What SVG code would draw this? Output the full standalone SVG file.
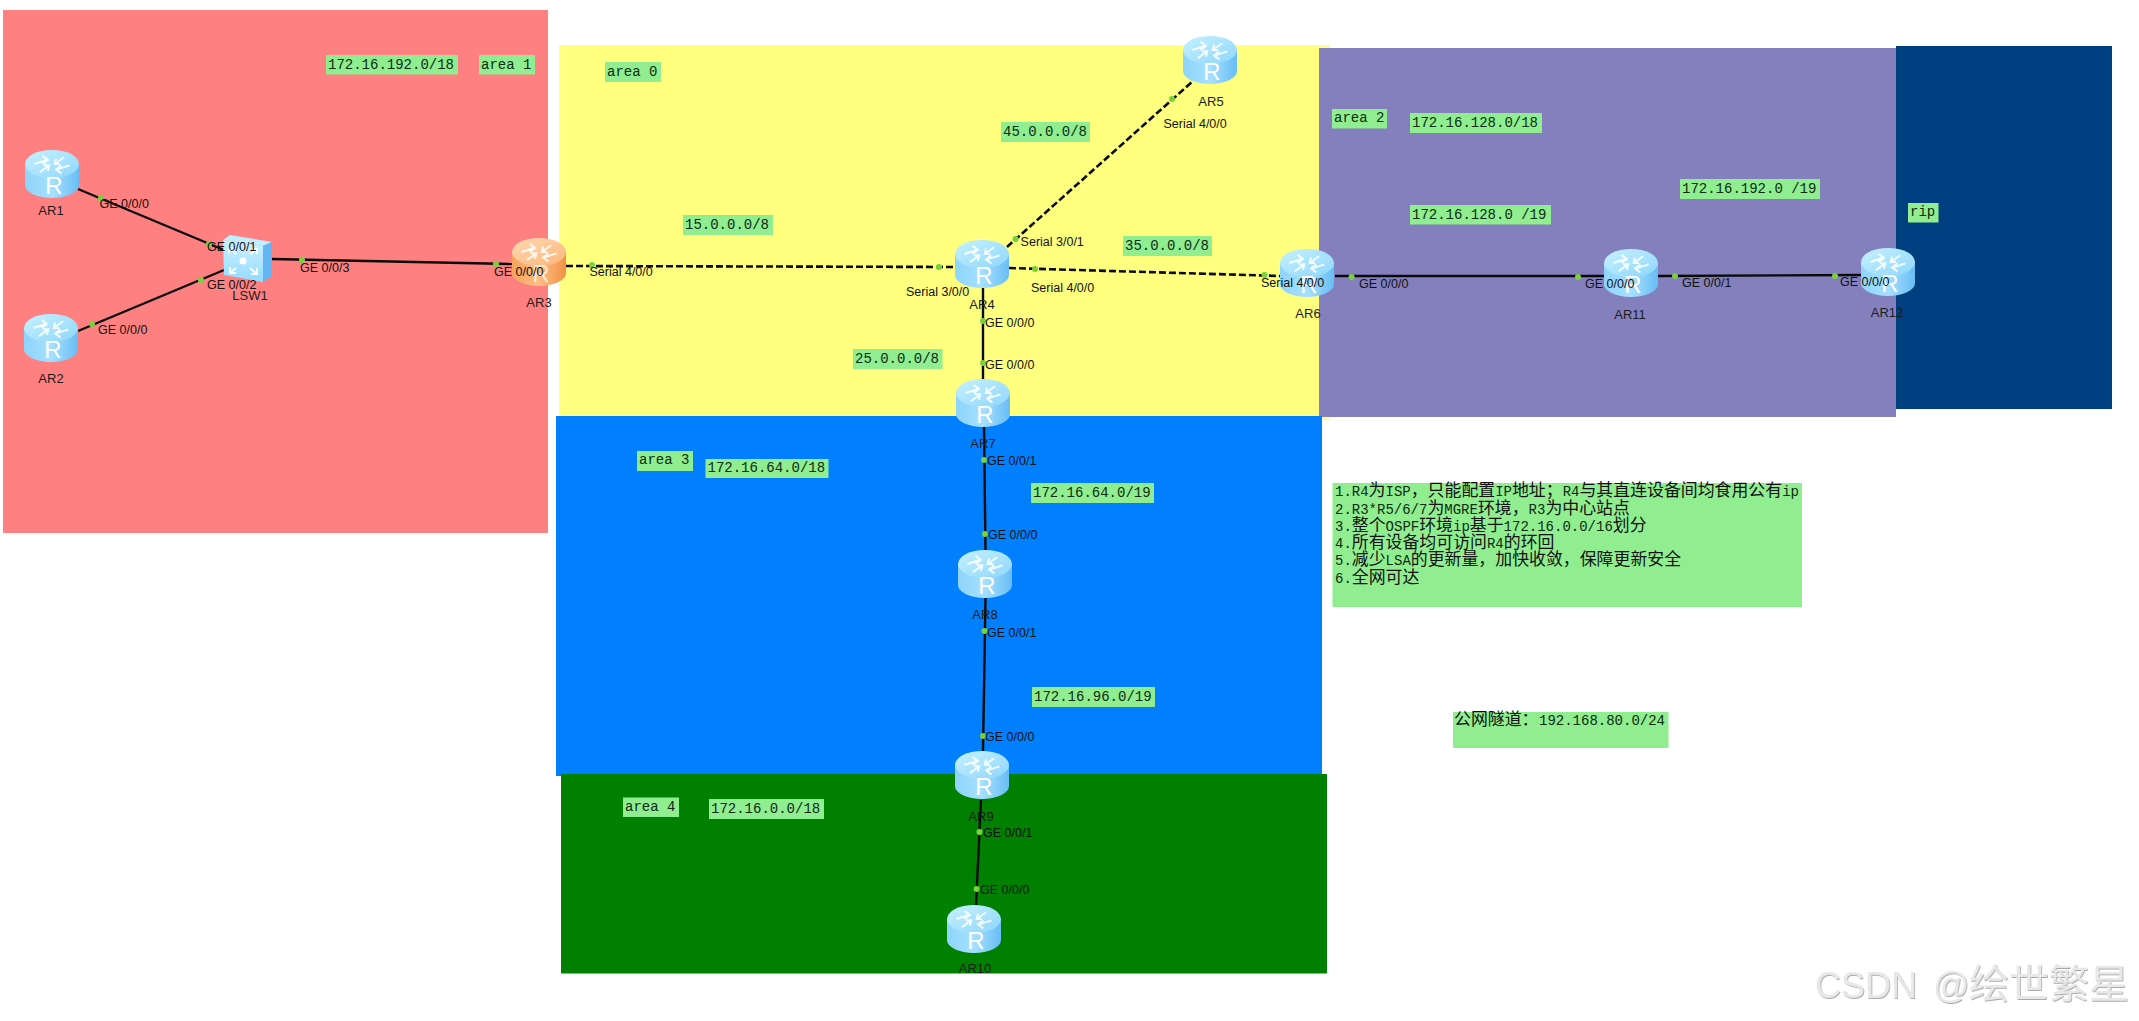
<svg xmlns="http://www.w3.org/2000/svg" xmlns:xlink="http://www.w3.org/1999/xlink" width="2139" height="1021" viewBox="0 0 2139 1021">
<style>
.n{font:13px "Liberation Sans",Arial,sans-serif;fill:#1c1c1c;text-anchor:middle}
.p{font:12.5px "Liberation Sans",Arial,sans-serif;fill:#111}
.m{font:14px "Liberation Mono","Noto Sans CJK SC",monospace;fill:#0c2c10}
.c{font-family:"Noto Sans CJK SC",sans-serif;font-size:16.9px;fill:#111}
.g{fill:#90ee90}
.s{stroke:#0a0a0a;stroke-width:2.4;fill:none}
.d{stroke:#0a0a0a;stroke-width:2.6;fill:none;stroke-dasharray:7 3}
.dot{fill:#78d23c}
.w{font-family:"Liberation Sans","Noto Sans CJK SC",sans-serif;font-size:36px;fill:#e8e8e8}
.wc{font-family:"Noto Sans CJK SC",sans-serif;font-size:40px;fill:#e8e8e8}
.ar{fill:none;stroke:#fff;stroke-width:1.5;opacity:.85}
</style>
<defs>
<linearGradient id="bb" x1="0" x2="1" y1="0" y2="0"><stop offset="0" stop-color="#8ed4fb"/><stop offset=".5" stop-color="#a6e0ff"/><stop offset="1" stop-color="#68bdf4"/></linearGradient>
<linearGradient id="bt" x1="0" x2="1" y1="0" y2="1"><stop offset="0" stop-color="#c6f1ff"/><stop offset="1" stop-color="#8fd6fb"/></linearGradient>
<linearGradient id="ob" x1="0" x2="1" y1="0" y2="0"><stop offset="0" stop-color="#f6a45c"/><stop offset=".5" stop-color="#ffbd83"/><stop offset="1" stop-color="#f09247"/></linearGradient>
<linearGradient id="ot" x1="0" x2="1" y1="0" y2="1"><stop offset="0" stop-color="#ffd9b2"/><stop offset="1" stop-color="#fbb57a"/></linearGradient>
<linearGradient id="sf" x1="0" x2="0" y1="0" y2="1"><stop offset="0" stop-color="#cff2ff"/><stop offset="1" stop-color="#92dbff"/></linearGradient>
<g id="arrows">
<path class="ar" transform="translate(0 -10) scale(1.35 1.35) translate(0 10)" d="M-13-10 L-4-13 M-7-16 L-3-13 L-7-10 M13-9 L4-6 M7-3 L3-6 L7-9 M-9-4 L-2-9 M-6-9 L-2-9 L-3-5 M9-15 L2-10 M6-10 L2-10 L3-14"/>
</g>
<g id="router">
<path d="M-27-10 V11 A27 13 0 0 0 27 11 V-10 Z" fill="url(#bb)"/>
<ellipse cx="0" cy="-10" rx="27" ry="14" fill="url(#bt)"/>
<use href="#arrows"/>
<text x="2" y="20" font-family="Liberation Sans,Arial,sans-serif" font-size="24" fill="#fff" text-anchor="middle">R</text>
</g>
<g id="router-o">
<path d="M-27-10 V11 A27 13 0 0 0 27 11 V-10 Z" fill="url(#ob)"/>
<ellipse cx="0" cy="-10" rx="27" ry="14" fill="url(#ot)"/>
<use href="#arrows"/>
<text x="2" y="20" font-family="Liberation Sans,Arial,sans-serif" font-size="24" fill="#ffe9d6" text-anchor="middle">R</text>
</g>
<filter id="emb" x="-5%" y="-20%" width="110%" height="140%"><feDropShadow dx=".8" dy="1" stdDeviation=".4" flood-color="#aaa"/></filter>
</defs>
<rect width="2139" height="1021" fill="#fff"/>
<g id="areas">
<rect x="3" y="10" width="545" height="523" fill="#ff8080"/>
<rect x="559" y="45" width="771" height="375" fill="#ffff80"/>
<rect x="1319" y="48" width="577" height="369" fill="#8380bd"/>
<rect x="1896" y="46" width="216" height="363" fill="#003f7f"/>
<rect x="556" y="416" width="766" height="360" fill="#0080ff"/>
<rect x="561" y="774" width="766" height="199.500" fill="#008000"/>
</g>
<g id="connectors">
<path class="s" d="M78 189 L224 250"/>
<path class="s" d="M78 331 L224 270"/>
<path class="s" d="M272 259 L512 264"/>
<path class="d" d="M566 266 L956 267"/>
<path class="d" d="M1007 247 L1193 81"/>
<path class="d" d="M1009 268 L1281 276"/>
<path class="s" d="M983 288 V379"/>
<path class="s" d="M984 427 L985.500 550"/>
<path class="s" d="M985.500 598 L983 751"/>
<path class="s" d="M981 800 L976 905"/>
<path class="s" d="M1335 276 H1604"/>
<path class="s" d="M1658 276 L1861 275"/>
</g>
<g id="node-AR1"><use href="#router" x="52" y="174"/><text class="n" x="51" y="215">AR1</text></g>
<g id="node-AR2"><use href="#router" x="51" y="338"/><text class="n" x="51" y="383">AR2</text></g>
<g id="node-LSW1">
<path d="M223 240 L230 235 L272 242 L263 246 Z" fill="#bfeeff"/>
<path d="M263 246 L272 242 L272 276 L263 282 Z" fill="#62b5f0"/>
<path d="M223 240 L263 246 L263 282 L224 275 Z" fill="url(#sf)"/>
<circle cx="243" cy="261" r="3.500" fill="#fff"/>
<path d="M236 254 L229 248 M229 253 V248 H234 M250 254 L257 250 M252 249 H257 V254 M236 268 L230 273 M230 267 V273 H236 M250 268 L257 274 M257 268 V274 H251" fill="none" stroke="#fff" stroke-width="1.800"/>
<text class="n" x="250" y="300">LSW1</text></g>
<g id="node-AR3"><use href="#router-o" x="539" y="262"/><text class="n" x="539" y="307">AR3</text></g>
<g id="node-AR4"><use href="#router" x="982" y="264"/><text class="n" x="982" y="309">AR4</text></g>
<g id="node-AR5"><use href="#router" x="1210" y="60"/><text class="n" x="1211" y="106">AR5</text></g>
<g id="node-AR6"><use href="#router" x="1307" y="273"/><text class="n" x="1308" y="318">AR6</text></g>
<g id="node-AR7"><use href="#router" x="983" y="403"/><text class="n" x="983" y="448">AR7</text></g>
<g id="node-AR8"><use href="#router" x="985" y="574"/><text class="n" x="985" y="619">AR8</text></g>
<g id="node-AR9"><use href="#router" x="982" y="775"/><text class="n" x="981" y="821">AR9</text></g>
<g id="node-AR10"><use href="#router" x="974" y="929"/><text class="n" x="975" y="973">AR10</text></g>
<g id="node-AR11"><use href="#router" x="1631" y="273"/><text class="n" x="1630" y="319">AR11</text></g>
<g id="node-AR12"><use href="#router" x="1888" y="272"/><text class="n" x="1887" y="317">AR12</text></g>
<g id="port-dots">
<circle class="dot" cx="101" cy="198" r="3"/><circle class="dot" cx="209" cy="244" r="3"/><circle class="dot" cx="201" cy="280" r="3"/><circle class="dot" cx="92" cy="324" r="3"/><circle class="dot" cx="302" cy="260" r="3"/><circle class="dot" cx="496" cy="264" r="3"/><circle class="dot" cx="592" cy="265" r="3"/><circle class="dot" cx="939" cy="267" r="3"/><circle class="dot" cx="1015.500" cy="239" r="3"/><circle class="dot" cx="1172" cy="99" r="3"/><circle class="dot" cx="1035" cy="269" r="3"/><circle class="dot" cx="1264.500" cy="275" r="3"/><circle class="dot" cx="983" cy="321" r="3"/><circle class="dot" cx="983" cy="363" r="3"/><circle class="dot" cx="984" cy="460" r="3"/><circle class="dot" cx="985" cy="534" r="3"/><circle class="dot" cx="984.500" cy="631" r="3"/><circle class="dot" cx="983" cy="736" r="3"/><circle class="dot" cx="979.500" cy="832" r="3"/><circle class="dot" cx="976.600" cy="889" r="3"/><circle class="dot" cx="1351.600" cy="277" r="3"/><circle class="dot" cx="1578" cy="277" r="3"/><circle class="dot" cx="1675" cy="276" r="3"/><circle class="dot" cx="1835" cy="276" r="3"/>
</g>
<g id="port-labels">
<text class="p" x="99.500" y="207.500">GE 0/0/0</text>
<text class="p" x="207" y="250.500">GE 0/0/1</text>
<text class="p" x="207" y="288.500">GE 0/0/2</text>
<text class="p" x="98" y="333.500">GE 0/0/0</text>
<text class="p" x="300" y="271.500">GE 0/0/3</text>
<text class="p" x="494" y="275.500">GE 0/0/0</text>
<text class="p" x="589.500" y="275.500">Serial 4/0/0</text>
<text class="p" x="906" y="295.500">Serial 3/0/0</text>
<text class="p" x="1020.600" y="245.500">Serial 3/0/1</text>
<text class="p" x="1031" y="291.500">Serial 4/0/0</text>
<text class="p" x="1163.500" y="127.500">Serial 4/0/0</text>
<text class="p" x="1261" y="286.500">Serial 4/0/0</text>
<text class="p" x="985" y="326.500">GE 0/0/0</text>
<text class="p" x="985" y="368.500">GE 0/0/0</text>
<text class="p" x="987" y="464.500">GE 0/0/1</text>
<text class="p" x="988" y="538.500">GE 0/0/0</text>
<text class="p" x="987" y="636.500">GE 0/0/1</text>
<text class="p" x="985" y="740.500">GE 0/0/0</text>
<text class="p" x="983" y="837">GE 0/0/1</text>
<text class="p" x="980" y="893.500">GE 0/0/0</text>
<text class="p" x="1359" y="287.500">GE 0/0/0</text>
<text class="p" x="1585" y="287.500">GE 0/0/0</text>
<text class="p" x="1682" y="286.500">GE 0/0/1</text>
<text class="p" x="1840" y="285.500">GE 0/0/0</text>
</g>
<g id="area-labels">
<rect class="g" x="326" y="55" width="132" height="19.500"/><text class="m" x="328" y="69">172.16.192.0/18</text>
<rect class="g" x="479" y="55" width="56" height="19.500"/><text class="m" x="481" y="69">area 1</text>
<rect class="g" x="605" y="62" width="56" height="20"/><text class="m" x="607" y="76">area 0</text>
<rect class="g" x="683" y="215" width="90" height="20"/><text class="m" x="685" y="229">15.0.0.0/8</text>
<rect class="g" x="1001" y="122" width="89" height="20"/><text class="m" x="1003" y="136">45.0.0.0/8</text>
<rect class="g" x="1123" y="236" width="89" height="20"/><text class="m" x="1125" y="250">35.0.0.0/8</text>
<rect class="g" x="853" y="349" width="89.500" height="20"/><text class="m" x="855" y="363">25.0.0.0/8</text>
<rect class="g" x="1332" y="109" width="55" height="19.500"/><text class="m" x="1334" y="122">area 2</text>
<rect class="g" x="1410" y="113" width="132" height="20"/><text class="m" x="1412" y="127">172.16.128.0/18</text>
<rect class="g" x="1410" y="205" width="141" height="19.500"/><text class="m" x="1412" y="219">172.16.128.0 /19</text>
<rect class="g" x="1680" y="179" width="140" height="20"/><text class="m" x="1682" y="193">172.16.192.0 /19</text>
<rect class="g" x="1908" y="203" width="30.500" height="19.500"/><text class="m" x="1910" y="216">rip</text>
<rect class="g" x="637" y="451" width="56" height="20"/><text class="m" x="639" y="464">area 3</text>
<rect class="g" x="705.500" y="459" width="123" height="19"/><text class="m" x="707.500" y="472">172.16.64.0/18</text>
<rect class="g" x="1031" y="483" width="123" height="20"/><text class="m" x="1033" y="497">172.16.64.0/19</text>
<rect class="g" x="1032" y="687" width="123" height="20"/><text class="m" x="1034" y="701">172.16.96.0/19</text>
<rect class="g" x="623" y="797.500" width="56" height="19.500"/><text class="m" x="625" y="811">area 4</text>
<rect class="g" x="709" y="799" width="115" height="20"/><text class="m" x="711" y="813">172.16.0.0/18</text>
</g>
<g id="notes">
<rect class="g" x="1332.500" y="483" width="469.500" height="124"/>
<text class="m" x="1335" y="496">1.R4<tspan class="c">为</tspan>ISP<tspan class="c">，只能配置</tspan>IP<tspan class="c">地址；</tspan>R4<tspan class="c">与其直连设备间均食用公有</tspan>ip</text>
<text class="m" x="1335" y="514">2.R3*R5/6/7<tspan class="c">为</tspan>MGRE<tspan class="c">环境，</tspan>R3<tspan class="c">为中心站点</tspan></text>
<text class="m" x="1335" y="531">3.<tspan class="c">整个</tspan>OSPF<tspan class="c">环境</tspan>ip<tspan class="c">基于</tspan>172.16.0.0/16<tspan class="c">划分</tspan></text>
<text class="m" x="1335" y="548">4.<tspan class="c">所有设备均可访问</tspan>R4<tspan class="c">的环回</tspan></text>
<text class="m" x="1335" y="565">5.<tspan class="c">减少</tspan>LSA<tspan class="c">的更新量，加快收敛，保障更新安全</tspan></text>
<text class="m" x="1335" y="583">6.<tspan class="c">全网可达</tspan></text>
</g>
<g id="tunnel">
<rect class="g" x="1453" y="712" width="215.500" height="36"/>
<text class="m" x="1454" y="725"><tspan class="c">公网隧道：</tspan><tspan x="1539">192.168.80.0/24</tspan></text>
</g>
<g id="watermark" filter="url(#emb)">
<text class="w" x="1815" y="998">CSDN</text>
<text class="w" x="1933" y="998">@</text>
<text class="wc" x="1969" y="998">绘世繁星</text>
</g>
</svg>
